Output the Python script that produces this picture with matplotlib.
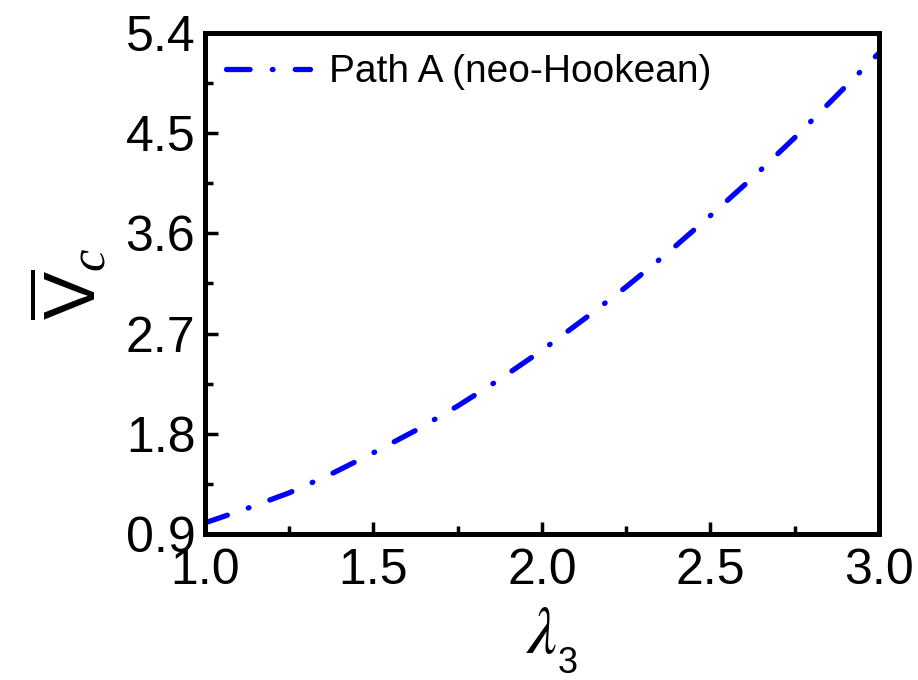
import numpy as np
import matplotlib
matplotlib.use('Agg')
import matplotlib.pyplot as plt
from matplotlib.ticker import MultipleLocator, FormatStrFormatter

plt.rcParams['font.family'] = ['Liberation Sans', 'DejaVu Sans']
plt.rcParams['mathtext.fontset'] = 'custom'
plt.rcParams['mathtext.rm'] = 'Liberation Sans'
plt.rcParams['mathtext.it'] = 'Liberation Serif:italic'
plt.rcParams['mathtext.bf'] = 'Liberation Sans:bold'
plt.rcParams['lines.scale_dashes'] = False

# critical voltage along loading path A
lam3 = [1.0, 1.125, 1.25, 1.375, 1.5, 1.625, 1.75, 1.875, 2.0,
        2.125, 2.25, 2.375, 2.5, 2.625, 2.75, 2.875, 3.0]
Vc = [1.0, 1.13, 1.27, 1.44, 1.63, 1.83, 2.05, 2.29, 2.55,
      2.83, 3.12, 3.43, 3.76, 4.10, 4.46, 4.84, 5.22]

xticks = [1.0, 1.5, 2.0, 2.5, 3.0]
yticks = [0.9, 1.8, 2.7, 3.6, 4.5, 5.4]

fig = plt.figure(figsize=(9.18, 6.8), dpi=100)
ax = fig.add_axes([0.2233, 0.2147, 0.7342, 0.7368])

ax.plot(lam3, Vc, color='#0000ff', lw=3.8, dashes=(17, 16, 0.5, 16),
        dash_capstyle='round', solid_capstyle='round',
        label='Path A (neo-Hookean)')

ax.set_xlim(1.0, 3.0)
ax.set_ylim(0.9, 5.4)
ax.set_xticks(xticks)
ax.set_yticks(yticks)
ax.xaxis.set_minor_locator(MultipleLocator(0.25))
ax.yaxis.set_minor_locator(MultipleLocator(0.45))
ax.xaxis.set_major_formatter(FormatStrFormatter('%.1f'))
ax.yaxis.set_major_formatter(FormatStrFormatter('%.1f'))

for sp in ax.spines.values():
    sp.set_linewidth(3.6)

ax.tick_params(which='major', direction='in', length=9, width=2.5,
               labelsize=36, top=False, right=False)
ax.tick_params(which='minor', direction='in', length=6, width=2.5,
               top=False, right=False)
ax.tick_params(axis='x', pad=10)
ax.tick_params(axis='y', pad=7)

# lambda_3 built from an italic lambda and a lowered subscript
ax.set_xlabel('λ', fontsize=48, fontfamily='STIXGeneral',
              fontstyle='italic', labelpad=9)
ax.annotate('3', xy=(1, 0), xycoords=ax.xaxis.label,
            xytext=(0, -10), textcoords='offset points',
            fontsize=26, ha='left', va='bottom')
ax.set_ylabel(r'$\overline{\mathrm{V}}_{c}$', fontsize=52, labelpad=10)

ax.legend(loc='upper left', frameon=False, fontsize=28,
          handlelength=2.15, handletextpad=0.5,
          borderaxespad=0.25, borderpad=0.3)

fig.savefig('out.png', dpi=100)
